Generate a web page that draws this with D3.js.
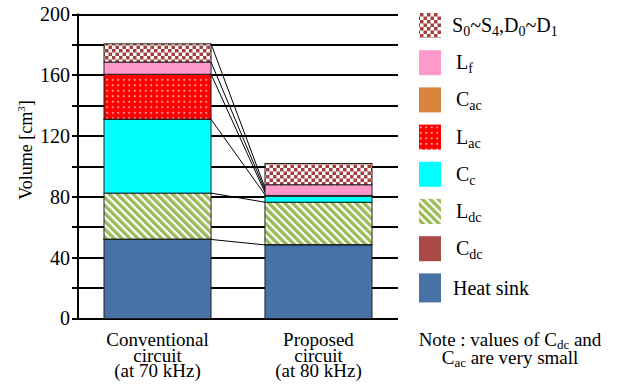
<!DOCTYPE html>
<html>
  <head>
    <meta charset="UTF-8" />
    <script src="https://d3js.org/d3.v7.min.js"></script>
  </head>
  <body style="margin:0">
    <svg width="624" height="392"></svg>
    <script>
      // categories (bottom to top of each stack)
      const components = ['Heat sink', 'Cdc', 'Ldc', 'Cc', 'Cac', 'Lac', 'Lf', 'S']
      const circuits = ['conventional', 'proposed']
      const circuitLabels = [
        ['Conventional', 'circuit', '(at 70 kHz)'],
        ['Proposed', 'circuit', '(at 80 kHz)']
      ]
      // volume of each component [cm3]
      const conventional = [52, 0.3, 30.2, 48.5, 0.2, 29.5, 8, 12]
      const proposed = [48.4, 0.3, 27.8, 4, 0.2, 0.3, 7, 14]
      // connecting lines: conventional stack height -> point on proposed bar
      const linkFrom = [52, 82.5, 131, 160.7, 168.7, 180.7]
      const linkTo = [48.4, 76.5, 81.5, 83, 84.5, 86]
      const yTicks = [0, 20, 40, 60, 80, 100, 120, 140, 160, 180, 200]
      const yLabels = [0, 40, 80, 120, 160, 200]

      const svg = d3.select('svg')

      // patterns
      const defs = svg.append('defs')
      const checker = defs.append('pattern').attr('id', 'pS').attr('patternUnits', 'userSpaceOnUse')
        .attr('width', 7).attr('height', 7)
      checker.append('rect').attr('width', 7).attr('height', 7).attr('fill', '#fff')
      checker.append('rect').attr('width', 3.5).attr('height', 3.5).attr('fill', '#a1403d')
      checker.append('rect').attr('x', 3.5).attr('y', 3.5).attr('width', 3.5).attr('height', 3.5).attr('fill', '#a1403d')

      const dots = defs.append('pattern').attr('id', 'pLac').attr('patternUnits', 'userSpaceOnUse')
        .attr('width', 5.5).attr('height', 5.5)
      dots.append('rect').attr('width', 5.5).attr('height', 5.5).attr('fill', '#ff0000')
      dots.append('circle').attr('cx', 2.75).attr('cy', 2.75).attr('r', 0.9).attr('fill', '#ffd6d6')

      const stripes = defs.append('pattern').attr('id', 'pLdc').attr('patternUnits', 'userSpaceOnUse')
        .attr('width', 5.6).attr('height', 10).attr('patternTransform', 'rotate(-45)')
      stripes.append('rect').attr('width', 5.6).attr('height', 10).attr('fill', '#fff')
      stripes.append('rect').attr('width', 3.4).attr('height', 10).attr('fill', '#9bbb59')

      const fills = {
        'Heat sink': '#4672a6',
        Cdc: '#a94a46',
        Ldc: 'url(#pLdc)',
        Cc: '#00ffff',
        Cac: '#d9843c',
        Lac: 'url(#pLac)',
        Lf: '#ff99cc',
        S: 'url(#pS)'
      }

      // scales
      const y = d3.scaleLinear().domain([0, 200]).range([318.5, 14.5])
      const x = d3.scaleBand().domain(circuits).range([78, 398]).paddingInner(0.335).paddingOuter(0.1615)

      // gridlines
      svg.append('g').selectAll('line').data(yTicks).join('line')
        .attr('x1', 72).attr('x2', 398)
        .attr('y1', (d) => Math.round(y(d))).attr('y2', (d) => Math.round(y(d)))
        .attr('stroke', '#000').attr('stroke-width', 2)

      // stacks
      const series = { conventional, proposed }
      const stacks = circuits.map((c) => {
        let acc = 0
        return components.map((name, i) => {
          const y0 = acc
          acc += series[c][i]
          return { circuit: c, name, y0, y1: acc }
        })
      })

      svg.append('g').selectAll('g').data(stacks).join('g')
        .selectAll('rect').data((d) => d).join('rect')
        .attr('x', (d) => x(d.circuit))
        .attr('width', x.bandwidth())
        .attr('y', (d) => y(d.y1))
        .attr('height', (d) => y(d.y0) - y(d.y1))
        .attr('fill', (d) => fills[d.name])
        .attr('stroke', '#222')
        .attr('stroke-width', 1)

      // connecting lines
      svg.append('g').selectAll('line').data(linkFrom).join('line')
        .attr('x1', x('conventional') + x.bandwidth())
        .attr('y1', (d) => y(d))
        .attr('x2', x('proposed'))
        .attr('y2', (d, i) => y(linkTo[i]))
        .attr('stroke', '#000').attr('stroke-width', 1)

      // y axis labels from the scale
      svg.append('g').selectAll('text').data(yLabels).join('text')
        .attr('x', 70).attr('y', (d) => y(d)).attr('dy', '0.34em')
        .attr('text-anchor', 'end').attr('font-size', 20)
        .text((d) => d)
      svg.append('line').attr('x1', 78).attr('x2', 78).attr('y1', y(200) - 1).attr('y2', y(0) + 1)
        .attr('stroke', '#000').attr('stroke-width', 2)

      const yTitle = svg.append('text').attr('transform', 'translate(32,150) rotate(-90)')
        .attr('text-anchor', 'middle').attr('font-size', 18)
      yTitle.append('tspan').text('Volume [cm')
      yTitle.append('tspan').attr('font-size', 11).attr('dy', -7).text('3')
      yTitle.append('tspan').attr('dy', 7).text(']')

      // x labels
      circuits.forEach((c, i) => {
        const t = svg.append('text').attr('text-anchor', 'middle').attr('font-size', 19)
          .attr('x', x(c) + x.bandwidth() / 2).attr('y', 346)
        circuitLabels[i].forEach((line, k) => {
          t.append('tspan').attr('x', x(c) + x.bandwidth() / 2).attr('dy', k === 0 ? 0 : 15.5).text(line)
        })
      })

      // legend (top to bottom)
      const legendItems = [
        { key: 'S', parts: [['S', 0], ['0', 1], ['~S', 0], ['4', 1], [',D', 0], ['0', 1], ['~D', 0], ['1', 1]], tx: 452 },
        { key: 'Lf', parts: [['L', 0], ['f', 1]], tx: 456 },
        { key: 'Cac', parts: [['C', 0], ['ac', 1]], tx: 456 },
        { key: 'Lac', parts: [['L', 0], ['ac', 1]], tx: 456 },
        { key: 'Cc', parts: [['C', 0], ['c', 1]], tx: 456 },
        { key: 'Ldc', parts: [['L', 0], ['dc', 1]], tx: 456 },
        { key: 'Cdc', parts: [['C', 0], ['dc', 1]], tx: 456 },
        { key: 'Heat sink', parts: [['Heat sink', 0]], tx: 453 }
      ]
      const lg = svg.append('g').selectAll('g').data(legendItems).join('g')
        .attr('transform', (d, i) => `translate(0, ${13 + i * 37.2})`)
      lg.append('rect').attr('x', 419).attr('y', 0).attr('width', 22)
        .attr('height', (d) => (d.key === 'Heat sink' ? 29 : 25))
        .attr('fill', (d) => fills[d.key])
      lg.each(function (d) {
        const t = d3.select(this).append('text').attr('x', d.tx).attr('y', d.key === 'Heat sink' ? 22 : 19).attr('font-size', 20)
        let sub = 0
        d.parts.forEach(([s, isSub]) => {
          const dy = isSub === sub ? 0 : isSub ? 4 : -4
          t.append('tspan').attr('dy', dy).attr('font-size', isSub ? 14 : 20).text(s)
          sub = isSub
        })
      })

      // note
      const note1 = svg.append('text').attr('x', 510).attr('y', 346).attr('text-anchor', 'middle').attr('font-size', 19)
      note1.append('tspan').text('Note : values of C')
      note1.append('tspan').attr('dy', 3).attr('font-size', 13).text('dc')
      note1.append('tspan').attr('dy', -3).text(' and')
      const note2 = svg.append('text').attr('x', 510).attr('y', 364).attr('text-anchor', 'middle').attr('font-size', 19)
      note2.append('tspan').text('C')
      note2.append('tspan').attr('dy', 3).attr('font-size', 13).text('ac')
      note2.append('tspan').attr('dy', -3).text(' are very small')

      // serif for every text, forced over any other rule
      svg.selectAll('text, tspan').each(function () {
        this.style.setProperty('font-family', '"Liberation Serif", Tinos, "Times New Roman"', 'important')
      })
    </script>
  </body>
</html>
